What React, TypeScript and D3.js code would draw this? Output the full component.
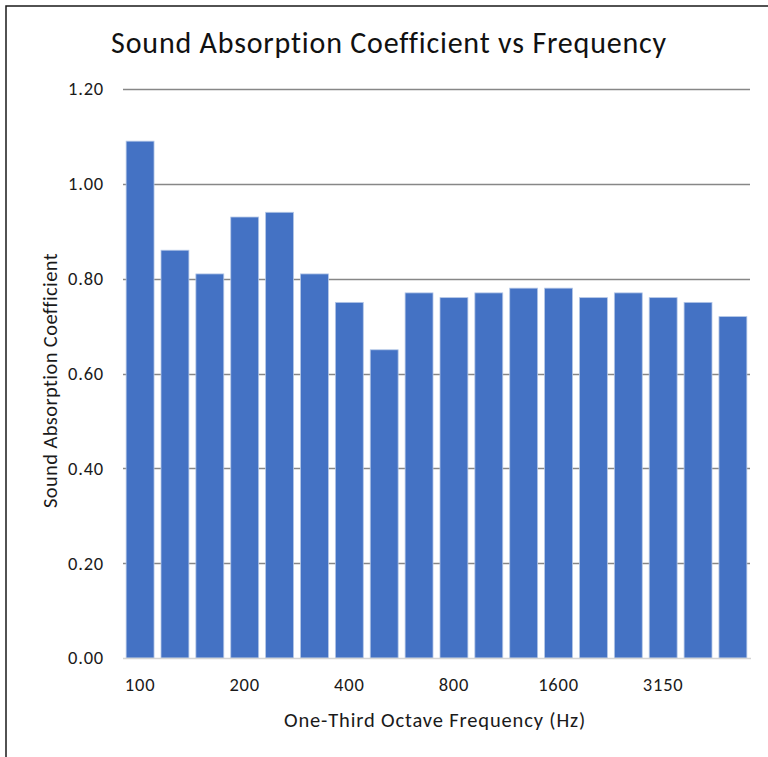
import React, { useRef, useEffect } from 'react';
import * as d3 from 'd3';

// one-third octave band centre frequencies (Hz)
const frequencies = ['100', '125', '160', '200', '250', '315', '400', '500', '630', '800', '1000', '1250', '1600', '2000', '2500', '3150', '4000', '5000'];
// measured sound absorption coefficient per band
const absorption = [1.09, 0.86, 0.81, 0.93, 0.94, 0.81, 0.75, 0.65, 0.77, 0.76, 0.77, 0.78, 0.78, 0.76, 0.77, 0.76, 0.75, 0.72];
// labels shown on the x axis
const shownLabels = ['100', '200', '400', '800', '1600', '3150'];
const yTicks = [0, 0.2, 0.4, 0.6, 0.8, 1.0, 1.2];

const FONT = 'Carlito, Lato, "Open Sans", sans-serif';

const App = () => {
  const d3Container = useRef(null);

  useEffect(() => {
    if (!d3Container.current) return;
    const width = 768;
    const height = 757;
    const left = 123;
    const right = 750;
    const top = 89;
    const bottom = 658;

    d3.select(d3Container.current).selectAll('*').remove();

    const svg = d3.select(d3Container.current)
      .attr('width', width)
      .attr('height', height);

    const data = frequencies.map((f, i) => ({ f, v: absorption[i] }));

    const x = d3.scaleBand()
      .domain(frequencies)
      .range([left, right])
      .paddingInner(0.2)
      .paddingOuter(0.09);

    const y = d3.scaleLinear()
      .domain([0, 1.2])
      .range([bottom, top]);

    // frame
    svg.append('path')
      .attr('d', `M6,${height} V6 H${width}`)
      .attr('fill', 'none')
      .attr('stroke', '#1a1a1a')
      .attr('stroke-width', 1.5);

    // gridlines
    svg.append('g')
      .selectAll('line')
      .data(yTicks.filter(d => d > 0))
      .enter()
      .append('line')
      .attr('x1', left)
      .attr('x2', right)
      .attr('y1', d => Math.round(y(d)) + 0.5)
      .attr('y2', d => Math.round(y(d)) + 0.5)
      .attr('stroke', '#878787')
      .attr('stroke-width', 1.3);

    // y tick labels
    svg.append('g')
      .selectAll('text')
      .data(yTicks)
      .enter()
      .append('text')
      .attr('x', 104)
      .attr('y', d => y(d))
      .attr('dy', '0.35em')
      .attr('text-anchor', 'end')
      .style('font-family', FONT)
      .style('font-size', '18.5px')
      .style('letter-spacing', '0.8px')
      .attr('fill', '#1a1a1a')
      .text(d => d3.format('.2f')(d));

    // bars
    svg.append('g')
      .selectAll('rect')
      .data(data)
      .enter()
      .append('rect')
      .attr('x', d => x(d.f))
      .attr('y', d => y(d.v))
      .attr('width', x.bandwidth())
      .attr('height', d => bottom - y(d.v))
      .attr('fill', '#4472C4')
      .attr('stroke', '#b4c7e7')
      .attr('stroke-width', 0.8);

    // baseline
    svg.append('line')
      .attr('x1', left)
      .attr('x2', right + 1)
      .attr('y1', bottom + 0.5)
      .attr('y2', bottom + 0.5)
      .attr('stroke', '#d4d4d4')
      .attr('stroke-width', 1.5);

    // x tick labels
    svg.append('g')
      .selectAll('text')
      .data(shownLabels)
      .enter()
      .append('text')
      .attr('x', d => x(d) + x.bandwidth() / 2)
      .attr('y', 690.5)
      .attr('text-anchor', 'middle')
      .style('font-family', FONT)
      .style('font-size', '18.5px')
      .style('letter-spacing', '0.8px')
      .attr('fill', '#1a1a1a')
      .text(d => d);

    // title
    svg.append('text')
      .attr('x', 389)
      .attr('y', 53)
      .attr('text-anchor', 'middle')
      .style('font-family', FONT)
      .style('font-size', '30px')
      .style('letter-spacing', '0.8px')
      .attr('fill', '#111')
      .text('Sound Absorption Coefficient vs Frequency');

    // x axis title
    svg.append('text')
      .attr('x', 435)
      .attr('y', 727)
      .attr('text-anchor', 'middle')
      .style('font-family', FONT)
      .style('font-size', '20.5px')
      .style('letter-spacing', '0.85px')
      .attr('fill', '#1a1a1a')
      .text('One-Third Octave Frequency (Hz)');

    // y axis title
    svg.append('text')
      .attr('transform', 'translate(57,380.5) rotate(-90)')
      .attr('text-anchor', 'middle')
      .style('font-family', FONT)
      .style('font-size', '20.5px')
      .style('letter-spacing', '0.4px')
      .attr('fill', '#1a1a1a')
      .text('Sound Absorption Coefficient');
  }, []);

  return (
    <svg
      ref={d3Container}
      style={{ position: 'absolute', left: 0, top: 0, background: '#fff' }}
    />
  );
};

export default App;
